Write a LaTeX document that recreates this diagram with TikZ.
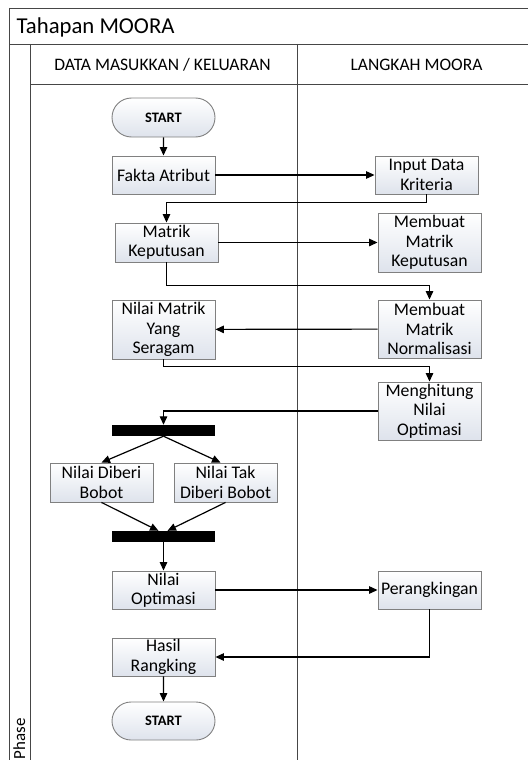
\documentclass[tikz,border=0pt]{standalone}
\usepackage{fontspec}
\setmainfont{Carlito}
\usetikzlibrary{arrows.meta,shapes.misc}
\definecolor{boxbot}{RGB}{222,227,236}
\definecolor{boxline}{RGB}{128,128,128}
\definecolor{frameline}{RGB}{70,70,70}
\tikzset{
  frame/.style={draw=frameline, line width=0.9bp},
  box/.style={draw=boxline, line width=0.9bp, top color=white, bottom color=boxbot,
    minimum width=103bp, inner sep=0pt, align=center,
    font=\fontsize{17.8}{19.5}\selectfont},
  term/.style={box, rounded rectangle, font=\fontsize{14.5}{17}\selectfont\bfseries},
  bar/.style={fill=black, draw=none, minimum width=103bp, minimum height=11bp, inner sep=0pt},
  arr/.style={draw=black, line width=1.2bp, -{Triangle[length=8.5bp,width=7.5bp]}},
  hdr/.style={font=\fontsize{17.6}{20}\selectfont, inner sep=0pt, anchor=base},
}
\begin{document}
\begin{tikzpicture}[x=1bp,y=-1bp]
\useasboundingbox (0,0) rectangle (528,760);
\clip (0,0) rectangle (528,760);
% frame
\draw[frame] (9,8) -- (545,8);
\draw[frame] (9,8) -- (9,775);
\draw[frame] (9,44) -- (545,44);
\draw[frame] (30,44) -- (30,775);
\draw[frame] (30,84) -- (545,84);
\draw[frame] (297,44) -- (297,775);
\node[font=\fontsize{22.8}{26}\selectfont, inner sep=0pt, anchor=base west] (title) at (16.5,33.5) {Tahapan MOORA};
\node[hdr] (h1) at (162.5,71) {DATA MASUKKAN / KELUARAN};
\node[hdr] (h2) at (416.5,71) {LANGKAH MOORA};
\node[rotate=90, anchor=base east, inner sep=0pt, font=\fontsize{17}{20}\selectfont] (phase) at (25,718) {Phase};
% nodes
\node[term, minimum height=39bp] (start1) at (163.5,117.5) {START};
\node[box, minimum height=38bp] (fakta) at (163.5,175) {Fakta Atribut};
\node[box, minimum height=38bp] (input) at (426.5,175) {Input Data\\Kriteria};
\node[box, minimum height=39bp] (matrik) at (166.5,242.5) {Matrik\\Keputusan};
\node[box, minimum height=59bp] (mbuat) at (429.5,242.5) {Membuat\\Matrik\\Keputusan};
\node[box, minimum height=59bp] (seragam) at (163.5,329.5) {Nilai Matrik\\Yang\\Seragam};
\node[box, minimum height=58bp] (normal) at (429.5,329) {Membuat\\Matrik\\Normalisasi};
\node[box, minimum height=58bp] (hitung) at (429.5,411) {Menghitung\\Nilai\\Optimasi};
\node[bar] (bar1) at (163.5,430.5) {};
\node[box, minimum height=39bp] (diberi) at (101.5,482.5) {Nilai Diberi\\Bobot};
\node[box, minimum height=39bp] (tak) at (225.5,482.5) {Nilai Tak\\Diberi Bobot};
\node[bar] (bar2) at (163.5,536.5) {};
\node[box, minimum height=38bp] (optimasi) at (163.5,590) {Nilai\\Optimasi};
\node[box, minimum height=38bp] (rank) at (429.5,590) {Perangkingan};
\node[box, minimum height=38bp] (hasil) at (163.5,657) {Hasil\\Rangking};
\node[term, minimum height=38bp] (start2) at (163.5,721) {START};
% connectors
\draw[arr] (start1) -- (fakta);
\draw[arr] (fakta) -- (input);
\draw[arr] (input.south) -- ++(0,8) -| (matrik.north);
\draw[arr] (matrik) -- (mbuat);
\draw[arr] (matrik.south) -- ++(0,23) -| (normal.north);
\draw[arr] (normal) -- (seragam);
\draw[arr] (seragam.south) -- ++(0,7) -| (hitung.north);
\draw[arr] (hitung.west) -| (bar1.north);
\draw[arr] (bar1.south) -- (diberi.north);
\draw[arr] (bar1.south) -- ([xshift=-5bp]tak.north);
\draw[arr] (diberi.south) -- ([xshift=-5bp]bar2.north);
\draw[arr] (tak.south) -- ([xshift=4bp]bar2.north);
\draw[arr] (bar2) -- (optimasi);
\draw[arr] (optimasi) -- (rank);
\draw[arr] (rank.south) |- (hasil.east);
\draw[arr] (hasil) -- (start2);
\end{tikzpicture}
\end{document}
